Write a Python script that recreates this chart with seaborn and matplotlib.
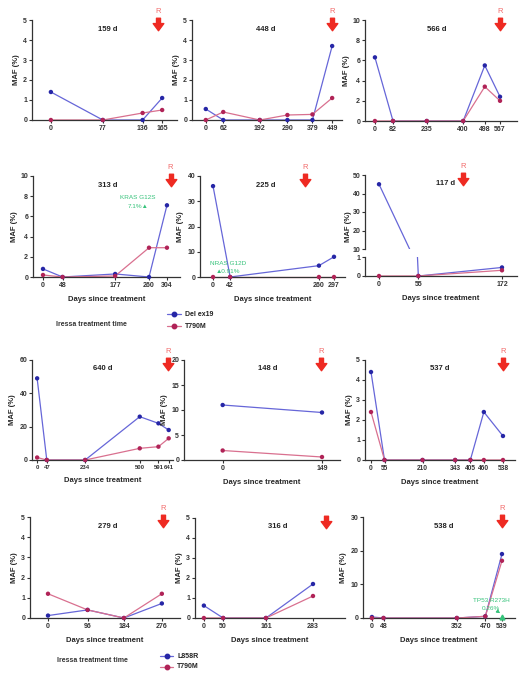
import matplotlib
matplotlib.use("Agg")
import matplotlib.pyplot as plt
from matplotlib.lines import Line2D
from matplotlib.path import Path
import pandas as pd
import seaborn as sns

W, H = 528, 682

# ---------------- data ----------------
titles = ["159 d", "448 d", "566 d", "313 d", "225 d", "117 d",
          "640 d", "148 d", "537 d", "279 d", "316 d", "538 d"]
resist_days = [159, 448, 566, 313, 225, 117, 640, 148, 537, 279, 316, 538]
show_r = [True, True, True, True, True, True, True, True, True, True, False, True]

days_1 = [0, 77, 136, 165]
drv_1 = [1.4, 0, 0, 1.1]
t790m_1 = [0, 0, 0.35, 0.5]

days_2 = [0, 62, 192, 290, 379, 449]
drv_2 = [0.55, 0, 0, 0, 0, 3.7]
t790m_2 = [0, 0.4, 0, 0.25, 0.28, 1.1]

days_3 = [0, 82, 235, 400, 498, 567]
drv_3 = [6.3, 0, 0, 0, 5.5, 2.4]
t790m_3 = [0, 0, 0, 0, 3.4, 2.0]

days_4 = [0, 48, 177, 260, 304]
drv_4 = [0.8, 0, 0.3, 0, 7.1]
t790m_4 = [0.2, 0, 0.1, 2.9, 2.9]

days_5 = [0, 42, 260, 297]
drv_5 = [36, 0, 4.5, 8]
t790m_5 = [0, 0, 0, 0]

days_6 = [0, 55, 172]
drv_6 = [45, 0, 0.45]
t790m_6 = [0, 0, 0.3]

days_7 = [0, 47, 234, 500, 591, 641]
drv_7 = [49, 0, 0, 26, 22, 18]
t790m_7 = [1.5, 0, 0, 7, 8, 13]

days_8 = [0, 149]
drv_8 = [11, 9.5]
t790m_8 = [1.9, 0.6]

days_9 = [0, 55, 210, 343, 405, 460, 538]
drv_9 = [4.4, 0, 0, 0, 0, 2.4, 1.2]
t790m_9 = [2.4, 0, 0, 0, 0, 0, 0]

days_10 = [0, 96, 184, 276]
drv_10 = [0.12, 0.4, 0, 0.72]
t790m_10 = [1.2, 0.4, 0, 1.2]

days_11 = [0, 50, 161, 283]
drv_11 = [0.62, 0, 0, 1.7]
t790m_11 = [0, 0, 0, 1.1]

days_12 = [0, 48, 352, 470, 539]
drv_12 = [0.3, 0, 0, 0.5, 19]
t790m_12 = [0, 0, 0, 0.5, 17]

legend_top = ["Del ex19", "T790M"]
legend_bottom = ["L858R", "T790M"]
treat_label = "Iressa treatment time"
xlabel = "Days since treatment"
ylabel = "MAF (%)"

green_notes = [
    (3, 233, 7.9, "KRAS G12S"), (3, 233, 7.0, "7.1%\u25B2"),
    (4, 37, 5.5, "NRAS G12D"), (4, 37, 2.0, "\u25B20.91%"),
    (11, 494, 5.2, "TP53 R273H"), (11, 494, 2.7, "0.26%"),
]

all_days = [days_1, days_2, days_3, days_4, days_5, days_6,
            days_7, days_8, days_9, days_10, days_11, days_12]
all_drv = [drv_1, drv_2, drv_3, drv_4, drv_5, drv_6,
           drv_7, drv_8, drv_9, drv_10, drv_11, drv_12]
all_t790m = [t790m_1, t790m_2, t790m_3, t790m_4, t790m_5, t790m_6,
             t790m_7, t790m_8, t790m_9, t790m_10, t790m_11, t790m_12]

# ---------------- layout (pixels) ----------------
layout = [
    (32, 20, 177, 120, (-28, 187), (0, 5), 1),
    (192, 20, 342, 120, (-49, 484), (0, 5), 1),
    (365, 20, 517, 121, (-45, 644), (0, 10), 2),
    (33, 176, 180, 277, (-24.5, 336), (0, 10), 2),
    (200, 176, 345, 277, (-32, 324), (0, 40), 10),
    (365, 175, 517, 276, (-19.6, 193), None, None),
    (32, 360, 173, 460, (-25, 662), (0, 60), 20),
    (184, 360, 340, 460, (-58, 176), (0, 20), 5),
    (365, 360, 515, 460, (-24.5, 587), (0, 5), 1),
    (30, 517, 180, 618, (-43.6, 320), (0, 5), 1),
    (195, 518, 345, 618, (-23, 366), (0, 5), 1),
    (363, 517, 515, 618, (-37, 593), (0, 30), 10),
]
title_x = [0.52, 0.49, 0.47, 0.51, 0.45, 0.53, 0.5, 0.54, 0.5, 0.52, 0.55, 0.53]
xtick_size = [5, 5, 5, 5, 5, 5, 4.3, 5, 4.8, 5, 5, 5]

BLUE_L, BLUE_M = "#6666d8", "#2626a6"
RED_L, RED_M = "#d9708f", "#b02357"
GREEN = "#35c27a"
ARROW_RED = "#ee2a22"
R_RED = "#f26a6a"
AX_C = "#333333"

sns.set_theme(style="ticks")
plt.rcParams["font.family"] = ["Liberation Sans", "DejaVu Sans"]
plt.rcParams["font.weight"] = "bold"
plt.rcParams["axes.labelweight"] = "bold"

fig = plt.figure(figsize=(W / 100, H / 100), dpi=100)
fig.patch.set_facecolor("white")


def px_axes(l, t, r, b):
    return fig.add_axes([l / W, 1 - b / H, (r - l) / W, (b - t) / H])


def style(ax):
    sns.despine(ax=ax)
    for s in ("left", "bottom"):
        ax.spines[s].set_linewidth(0.9)
        ax.spines[s].set_color(AX_C)
    ax.set_facecolor("white")
    ax.tick_params(length=2.5, width=0.8, labelsize=5, pad=1,
                   colors=AX_C, direction="out")
    ax.grid(False)


def draw(ax, days, drv, t79, clip=False, keep=None):
    n = len(days)
    df = pd.DataFrame({"day": days * 2, "maf": drv + t79,
                       "gene": ["drv"] * n + ["t79"] * n})
    sns.lineplot(data=df, x="day", y="maf", hue="gene",
                 palette={"drv": BLUE_L, "t79": RED_L}, lw=0.9,
                 legend=False, ax=ax, clip_on=clip, sort=False,
                 estimator=None)
    pts = df if keep is None else df[df["maf"].apply(keep)]
    for g, c in (("drv", BLUE_M), ("t79", RED_M)):
        sub = pts[pts["gene"] == g]
        sns.scatterplot(data=sub, x="day", y="maf", color=c, s=10,
                        edgecolor="none", legend=False, ax=ax,
                        clip_on=False, zorder=3)
    ax.set_xlabel("")
    ax.set_ylabel("")


arrow_path = Path([(-0.32, 1.0), (0.32, 1.0), (0.32, 0.15), (0.85, 0.15),
                   (0.0, -1.0), (-0.85, 0.15), (-0.32, 0.15), (-0.32, 1.0)],
                  closed=True)

axes_for_notes = {}
for i in range(12):
    l, t, r, b, xl, yl, ystep = layout[i]
    days, drv, t79 = all_days[i], all_drv[i], all_t790m[i]
    if yl is None:
        # broken axis panel
        up = px_axes(l, t, r, 249)
        lo = px_axes(l, 257, r, b)
        for a in (up, lo):
            style(a)
            a.set_xlim(*xl)
        draw(up, days, drv, t79, clip=True, keep=lambda v: v >= 10)
        draw(lo, days, drv, t79, clip=True, keep=lambda v: v <= 1)
        up.set_ylim(10, 50)
        up.set_yticks([10, 20, 30, 40, 50])
        up.spines["bottom"].set_visible(False)
        up.tick_params(axis="x", bottom=False, labelbottom=False)
        lo.set_ylim(0, 1)
        lo.set_yticks([0, 1])
        lo.set_xticks(days)
        lo.set_xticklabels([str(d) for d in days])
        up.set_ylabel(ylabel, fontsize=5.5, labelpad=1)
        up.yaxis.set_label_coords(-0.085, 0.3)
        lo.set_xlabel(xlabel, fontsize=5.5, labelpad=5)
        ax_top, ax_main = up, lo
    else:
        ax = px_axes(l, t, r, b)
        style(ax)
        draw(ax, days, drv, t79)
        ax.set_xlim(*xl)
        ax.set_ylim(*yl)
        ax.set_yticks(list(range(yl[0], yl[1] + 1, ystep)))
        ax.set_xticks(days)
        ax.set_xticklabels([str(d) for d in days])
        ax.tick_params(axis="x", labelsize=xtick_size[i])
        ax.set_ylabel(ylabel, fontsize=5.5, labelpad=2)
        if i >= 3:
            ax.set_xlabel(xlabel, fontsize=5.5, labelpad=5)
        ax_top, ax_main = ax, ax
    axes_for_notes[i] = ax_main
    ax_top.text(title_x[i], 0.91 if yl is not None else 0.88, titles[i],
                transform=ax_top.transAxes, ha="center", va="center",
                fontsize=5.5, color="#222222")
    # resistance arrow
    ah = ax_top.get_position().height * H
    ax_top.plot([resist_days[i]], [1 - 3.5 / ah], marker=arrow_path, ms=9,
                color=ARROW_RED, mec=ARROW_RED, lw=0, clip_on=False,
                transform=ax_top.get_xaxis_transform(), zorder=5)
    if show_r[i]:
        ax_top.text(resist_days[i], 1 + 8.5 / ah, "R", color=R_RED,
                    fontsize=5.5, ha="center", va="center", fontweight="normal",
                    transform=ax_top.get_xaxis_transform(), clip_on=False)

# green annotations
for idx, x, y, txt in green_notes:
    axes_for_notes[idx].text(x, y, txt, color=GREEN, fontsize=4.6,
                             ha="center", va="center", fontweight="normal")
ax12 = axes_for_notes[11]
ax12.annotate("", xy=(days_12[-1], 0.8), xytext=(505, 1.6),
              arrowprops=dict(arrowstyle="-|>", color=GREEN, lw=0.7,
                              connectionstyle="arc3,rad=-0.4",
                              mutation_scale=5))
ax12.plot([days_12[-1]], [0.3], marker="^", ms=3.5, color=GREEN, lw=0,
          clip_on=False, zorder=6)


# legends
def legend_entry(x0, x1, y, lc, mc, label, tx):
    yf = 1 - y / H
    fig.add_artist(Line2D([x0 / W, x1 / W], [yf, yf],
                          transform=fig.transFigure, color=lc, lw=0.9))
    fig.add_artist(Line2D([(x0 + x1) / 2 / W], [yf], transform=fig.transFigure,
                          marker="o", ms=3.2, color=mc, lw=0))
    fig.text(tx / W, yf, label, va="center", ha="left", fontsize=5,
             color="#222222")


legend_entry(167, 181, 314, BLUE_L, BLUE_M, legend_top[0], 185)
legend_entry(167, 181, 326, RED_L, RED_M, legend_top[1], 185)
fig.text(91 / W, 1 - 324 / H, treat_label, ha="center", va="center",
         fontsize=5, color="#333333")
legend_entry(160, 173, 656, BLUE_L, BLUE_M, legend_bottom[0], 177)
legend_entry(160, 173, 667, RED_L, RED_M, legend_bottom[1], 177)
fig.text(92 / W, 1 - 661 / H, treat_label, ha="center", va="center",
         fontsize=5, color="#333333")

fig.savefig("out.png", dpi=100)
